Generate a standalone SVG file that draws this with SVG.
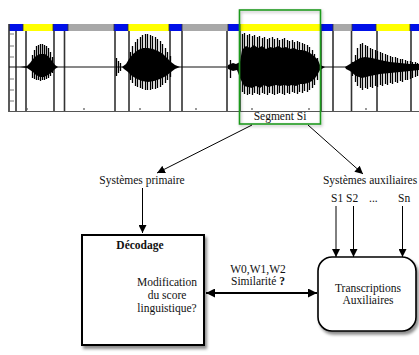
<svg xmlns="http://www.w3.org/2000/svg" width="419" height="355" viewBox="0 0 419 355">
<style>
text{font-family:'Liberation Serif','DejaVu Serif',serif;font-size:11.5px;fill:#111}
.c{text-anchor:middle}
.b{font-weight:bold}
.bl{fill:#0010e8}.ye{fill:#ffff00}.gr{fill:#a8a8a8}
.vl{stroke:#333;stroke-width:1.6;fill:none}
.wv{stroke:#000;stroke-width:1.3;fill:none}
.cn{stroke:#000;stroke-width:1;fill:none}
</style>
<defs>
<marker id="ah" viewBox="0 0 10 10" refX="10" refY="5" markerWidth="8" markerHeight="8" markerUnits="userSpaceOnUse" orient="auto"><path d="M0,0L10,5L0,10z" fill="#000"/></marker>
<marker id="ahb" viewBox="0 0 10 10" refX="10" refY="5" markerWidth="9" markerHeight="9" markerUnits="userSpaceOnUse" orient="auto-start-reverse"><path d="M0,0L10,5L0,10z" fill="#000"/></marker>
<filter id="sh" x="-20%" y="-20%" width="140%" height="140%"><feDropShadow dx="2" dy="3" stdDeviation="1.8" flood-color="#000" flood-opacity="0.45"/></filter>
<filter id="sh2" x="-20%" y="-20%" width="140%" height="140%"><feDropShadow dx="1" dy="1.5" stdDeviation="1.5" flood-color="#000" flood-opacity="0.3"/></filter>
</defs>
<rect width="419" height="355" fill="#fff"/>
<g id="spectrogram">
<g id="colorbar">
<rect class="bl" x="9" y="24" width="14" height="7"/>
<rect class="ye" x="23" y="24" width="30" height="7"/>
<rect class="bl" x="53" y="24" width="15" height="7"/>
<rect class="gr" x="68" y="24" width="46" height="7"/>
<rect class="bl" x="114" y="24" width="14" height="7"/>
<rect class="ye" x="128" y="24" width="41" height="7"/>
<rect class="bl" x="169" y="24" width="13" height="7"/>
<rect class="gr" x="182" y="24" width="46" height="7"/>
<rect class="bl" x="228" y="24" width="12" height="7"/>
<rect class="ye" x="240" y="24" width="81" height="7"/>
<rect class="bl" x="321" y="24" width="12" height="7"/>
<rect class="gr" x="333" y="24" width="19" height="7"/>
<rect class="bl" x="352" y="24" width="24" height="7"/>
<rect class="ye" x="376" y="24" width="34" height="7"/>
<rect class="bl" x="410" y="24" width="9" height="7"/>
<path d="M23,24V31M53,24V31M68,24V31M114,24V31M128,24V31M169,24V31M182,24V31M228,24V31M240,24V31M321,24V31M333,24V31M352,24V31M376,24V31M410,24V31" stroke="#333" stroke-width="0.8"/>
</g>
<path class="vl" d="M9,24V112M16,31V111M26,31V111M54,31V111M64.5,31V111M115,31V111M129,31V111M170,31V111M182,31V111M227,31V111M240,31V111M321,31V111M333,31V111M351.5,31V111M377,31V111M411,31V111"/>
<path d="M9,111.5H419" stroke="#555" stroke-width="1.2"/>
<path d="M9,34H14M9,46H14M9,57H14M9,79H14M9,90H14M9,101H14" stroke="#555" stroke-width="0.8"/>
<path d="M27,110V108M84,110V108M140,110V108M196,110V108M252,110V108M309,110V108M366,110V108" stroke="#555" stroke-width="1.2"/>
<path d="M9,67H419" stroke="#111" stroke-width="1"/>
<g id="wave">
<path fill="#000" d="M20,67L27,66L30,63L33,59L36,56L40,54L45,54L49,57L52,61L55,65L58,67L55,69L52,72L48,75L44,77L40,77L36,75L33,72L30,70L27,68Z"/>
<path class="wv" d="M32.5,55V78M34.5,50V79M36.5,46V80M38.5,45V80M40.5,44V81M42.5,44V80M44.5,45V80M46.5,46V79M48.5,48V78M50.5,52V76M52.5,57V73"/>
<path fill="#000" d="M122,67L126,64L129,59L133,54L138,50L143,48L148,48L153,49L158,51L163,54L167,58L171,62L175,65L180,67L175,69L171,72L166,76L160,79L154,81L148,82L142,81L137,79L132,76L128,72L124,69Z"/>
<path class="wv" d="M116.5,58V76M118.5,61V73M120.5,63V71M130.5,52V80M132.5,46V83M135.5,42V86M137.5,39V87M140.5,37V88M142.5,35V89M145.5,34V90M147.5,34V90M150.5,35V90M152.5,36V89M155.5,37V89M157.5,39V88M160.5,41V87M162.5,44V85M165.5,48V83M167.5,52V80M170.5,56V77"/>
<path fill="#000" d="M228,65L233,63L236,64L240,62L242,50L246,46L250,48L254,45L258,48L262,46L266,49L270,47L274,48L278,46L282,48L286,47L290,49L294,48L298,50L302,50L306,51L310,53L314,56L318,60L320,65L325,67L320,70L316,77L312,81L308,83L304,84L300,84L296,86L292,85L288,86L284,85L280,86L276,85L272,86L268,87L264,85L260,88L256,86L252,88L248,87L244,86L240,78L237,70L233,71L228,69Z"/>
<path class="wv" d="M230.5,60V78M242.5,34V92M244.5,33V94M247.5,35V95M249.5,34V94M252.5,36V95M254.5,35V93M257.5,37V94M259.5,36V95M262.5,38V93M264.5,37V94M267.5,39V95M269.5,38V93M272.5,37V94M274.5,39V95M277.5,38V94M279.5,40V93M282.5,39V94M284.5,38V95M287.5,40V93M289.5,41V94M292.5,40V92M294.5,42V93M297.5,41V94M299.5,42V92M302.5,43V93M304.5,44V91M307.5,45V92M309.5,47V90M312.5,50V88M314.5,54V85M317.5,58V80"/>
<path fill="#000" d="M345,67L350,64L355,61L360,58L365,57L372,58L380,60L390,62L400,63L410,64L419,64L419,70L410,71L400,72L390,73L380,74L370,76L362,78L356,76L350,71L346,69Z"/>
<path class="wv" d="M352.5,62V76M355.5,55V82M357.5,48V86M360.5,44V88M362.5,43V90M365.5,45V88M367.5,46V89M370.5,48V87M372.5,49V88M375.5,50V86M377.5,51V87M380.5,52V85M382.5,53V86M385.5,54V84M387.5,55V85M390.5,56V83M392.5,57V84M395.5,57V82M397.5,58V83M400.5,59V81M402.5,59V82M405.5,60V80M407.5,61V80M410.5,61V79M412.5,62V78M415.5,62V77M417.5,63V76"/>
</g>
</g>
<g id="segment">
<rect x="239.5" y="10" width="81" height="114" fill="none" stroke="#1f9a1f" stroke-width="1.6" filter="url(#sh2)"/>
<text class="c" x="280" y="120">Segment Si</text>
</g>
<g id="connectors">
<path class="cn" d="M252,125L157,173" marker-end="url(#ah)"/>
<path class="cn" d="M308,125L363,174" marker-end="url(#ah)"/>
<path class="cn" d="M142.5,188V233" marker-end="url(#ah)"/>
<path class="cn" d="M336,206V257" marker-end="url(#ah)"/>
<path class="cn" d="M353.5,206V257" marker-end="url(#ah)"/>
<path class="cn" d="M402.5,206V257" marker-end="url(#ah)"/>
<path d="M206,293H317" stroke="#000" stroke-width="2" fill="none" marker-start="url(#ahb)" marker-end="url(#ahb)"/>
</g>
<g id="primaire"><text class="c" x="142" y="184">Systèmes primaire</text></g>
<g id="auxiliaires">
<text class="c" x="370" y="184">Systèmes auxiliaires</text>
<text x="331" y="202">S1</text>
<text x="346" y="202">S2</text>
<text x="369" y="202">...</text>
<text x="398" y="202">Sn</text>
</g>
<g id="decodage">
<rect x="82" y="235" width="122" height="110" fill="#fff" stroke="#000" stroke-width="2" filter="url(#sh)"/>
<text class="c b" x="140" y="249">Décodage</text>
<text class="c" x="167" y="286">Modification</text>
<text class="c" x="167" y="299">du score</text>
<text class="c" x="167" y="312">linguistique?</text>
</g>
<g id="similarite">
<text class="c" x="258" y="273">W0,W1,W2</text>
<text class="c" x="258" y="285">Similarité <tspan class="b">?</tspan></text>
</g>
<g id="transcriptions">
<rect x="318" y="257" width="98" height="74" rx="14" fill="#fff" stroke="#000" stroke-width="1.6" filter="url(#sh)"/>
<text class="c" x="368" y="292">Transcriptions</text>
<text class="c" x="368" y="304">Auxiliaires</text>
</g>
</svg>
